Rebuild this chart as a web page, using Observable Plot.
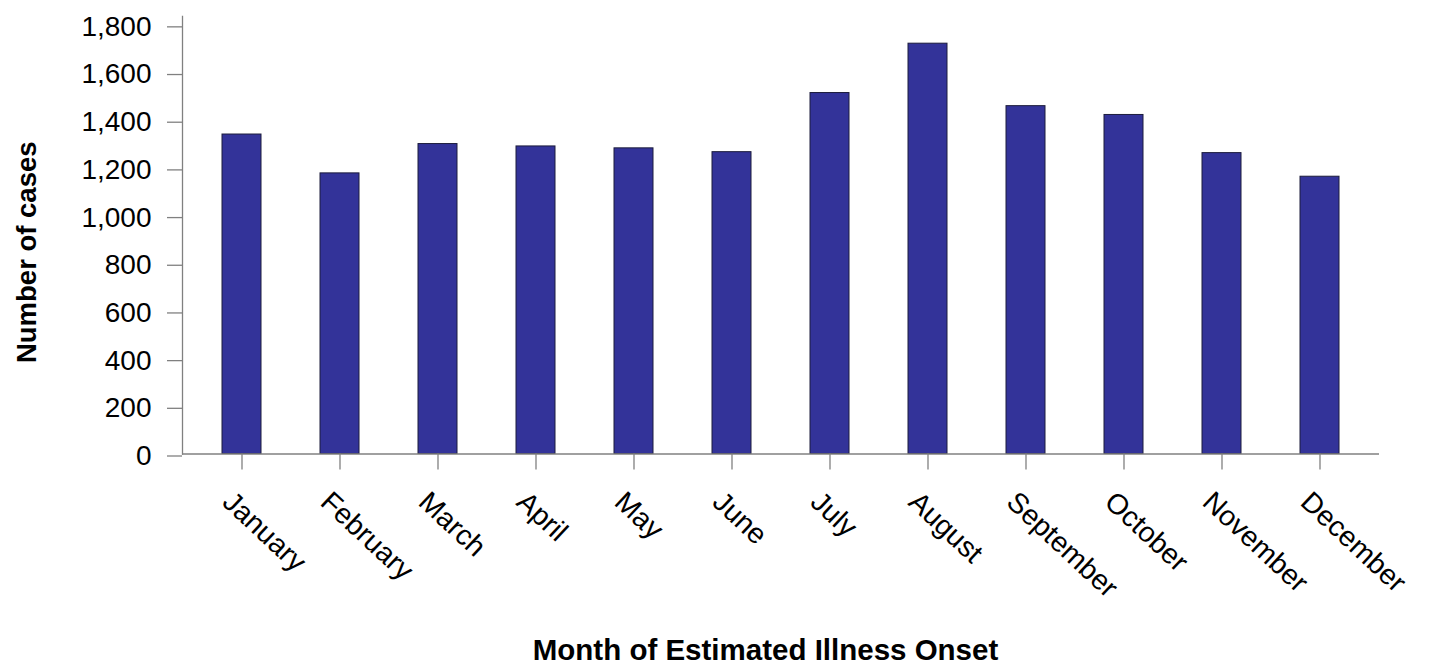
<!DOCTYPE html>
<html>
<head>
<meta charset="utf-8">
<script src="https://cdn.jsdelivr.net/npm/d3@7"></script>
<script src="https://cdn.jsdelivr.net/npm/@observablehq/plot@0.6"></script>
<style>
  html, body { margin: 0; padding: 0; background: #fff; }
  #chart { width: 1429px; height: 666px; }
</style>
</head>
<body>
<div id="chart"></div>
<script>
const months = ["January","February","March","April","May","June","July","August","September","October","November","December"];
const cases = [1340, 1177, 1300, 1290, 1282, 1266, 1514, 1721, 1459, 1422, 1262, 1163];
const yTicks = [0, 200, 400, 600, 800, 1000, 1200, 1400, 1600, 1800];
const yLabel = "Number of cases";
const xLabel = "Month of Estimated Illness Onset";

const data = months.map((m, i) => ({month: m, value: cases[i]}));
const font = "'Liberation Sans', Arial, Helvetica, sans-serif";
const axisGray = "#808080";

const chart = Plot.plot({
  width: 1429,
  height: 666,
  marginLeft: 182,
  marginRight: 50,
  marginTop: 16,
  marginBottom: 212.5,
  style: {fontFamily: font, color: "#000", background: "#fff"},
  x: {domain: months, paddingInner: 0.6, paddingOuter: 0.3, insetLeft: 9, insetRight: 8},
  y: {domain: [0, 1835]},
  marks: [
    Plot.barY(data, {x: "month", y: "value", fill: "#333399", stroke: "#1c1c3c", strokeWidth: 1}),
    Plot.frame({anchor: "left", stroke: axisGray, strokeWidth: 1.3}),
    Plot.ruleY([0], {stroke: axisGray, strokeWidth: 1.3}),
    Plot.axisY({ticks: yTicks, tickSize: 15, tickPadding: 16, tickFormat: d3.format(","), fontSize: 28, dy: 2, stroke: axisGray, strokeWidth: 1.3, fill: "#000", label: null}),
    Plot.axisX({tickSize: 16, tickFormat: () => "", stroke: axisGray, strokeWidth: 1.3, label: null}),
    Plot.text(months, {x: d => d, frameAnchor: "bottom", rotate: 43, textAnchor: "start", lineAnchor: "bottom", dx: -21, dy: 50, fontSize: 28.5, fill: "#000"}),
    Plot.text([yLabel], {frameAnchor: "left", rotate: -90, textAnchor: "middle", lineAnchor: "bottom", dx: -147, dy: 17, fontSize: 27.5, fontWeight: "bold", fill: "#000"}),
    Plot.text([xLabel], {frameAnchor: "bottom", textAnchor: "middle", lineAnchor: "bottom", dx: -15.5, dy: 205.5, fontSize: 29.5, fontWeight: "bold", fill: "#000"})
  ]
});
document.getElementById("chart").appendChild(chart);
</script>
</body>
</html>
